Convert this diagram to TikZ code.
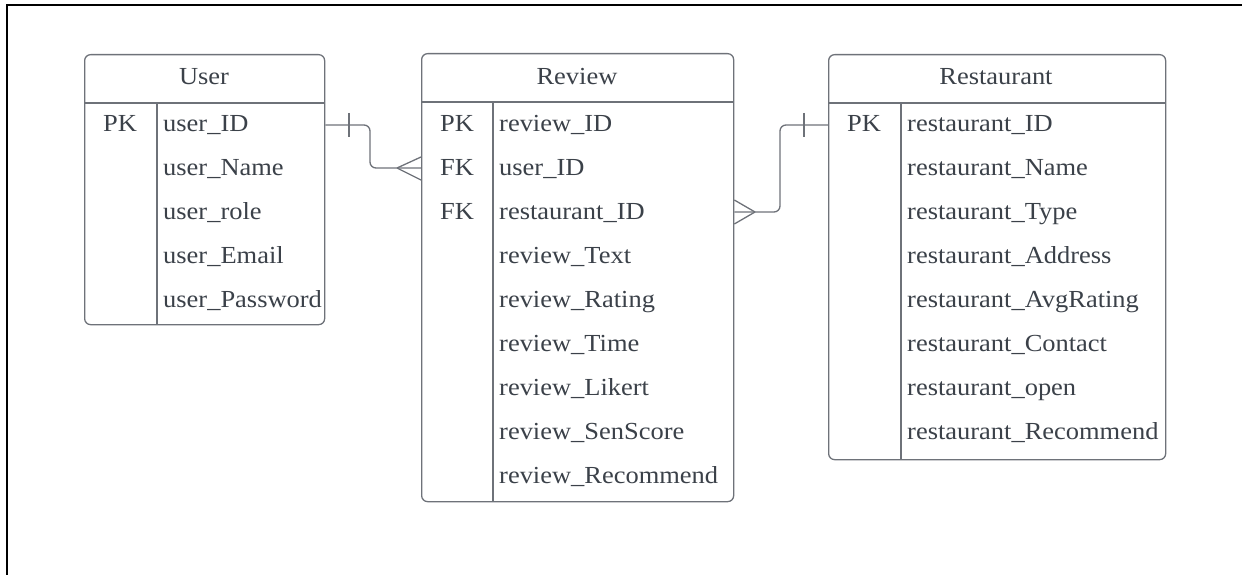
\documentclass[tikz,border=0pt]{standalone}
\usepackage{fontspec}
\setmainfont{Liberation Serif}[FakeStretch=1.08]
\definecolor{ln}{HTML}{6E7279}
\definecolor{tx}{HTML}{3B4149}
\begin{document}
\begin{tikzpicture}[x=1pt,y=-1pt,
  tbl/.style={draw=ln, line width=1.3pt, rounded corners=6pt, inner sep=0pt, anchor=north west},
  divline/.style={draw=ln, line width=1.3pt},
  fld/.style={text=tx, font=\fontsize{24.5}{28}\selectfont, anchor=base west, inner sep=0pt},
  key/.style={fld, anchor=base},
  conn/.style={draw=ln, line width=1.3pt, rounded corners=6pt},
  tickline/.style={draw=ln, line width=1.3pt}]
\useasboundingbox (0,0) rectangle (1242,575);
% frame
\draw[black, line width=2.6pt] (7,575) -- (7,5) -- (1242,5);

% User table
\node[tbl, minimum width=240pt, minimum height=270pt] (user) at (84,54) {};
\draw[divline] (user.west |- 0,103) -- (user.east |- 0,103);
\draw[divline] (157,103) -- ({157,0} |- user.south);
\node[key] (userH) at (204,85) {User};
\node[key] (upk) at (120,131.5) {PK};
\foreach \t [count=\i] in {user\_ID,user\_Name,user\_role,user\_Email,user\_Password}
  \node[fld] (u\i) at (163,{123+44*(\i-1)+8.5}) {\t};

% Review table
\node[tbl, minimum width=312pt, minimum height=448pt] (review) at (421,53) {};
\draw[divline] (review.west |- 0,102) -- (review.east |- 0,102);
\draw[divline] (493,102) -- ({493,0} |- review.south);
\node[key] (reviewH) at (577,85) {Review};
\node[key] (rpk) at (457,131.5) {PK};
\node[key] (rfk1) at (457,175.5) {FK};
\node[key] (rfk2) at (457,219.5) {FK};
\foreach \t [count=\i] in {review\_ID,user\_ID,restaurant\_ID,review\_Text,review\_Rating,review\_Time,review\_Likert,review\_SenScore,review\_Recommend}
  \node[fld] (r\i) at (499,{123+44*(\i-1)+8.5}) {\t};

% Restaurant table
\node[tbl, minimum width=337pt, minimum height=405pt] (rest) at (828,54) {};
\draw[divline] (rest.west |- 0,103) -- (rest.east |- 0,103);
\draw[divline] (901,103) -- ({901,0} |- rest.south);
\node[key] (restH) at (996,85) {Restaurant};
\node[key] (spk) at (864,131.5) {PK};
\foreach \t [count=\i] in {restaurant\_ID,restaurant\_Name,restaurant\_Type,restaurant\_Address,restaurant\_AvgRating,restaurant\_Contact,restaurant\_open,restaurant\_Recommend}
  \node[fld] (s\i) at (907,{123+44*(\i-1)+8.5}) {\t};

% User -> Review (one to many)
\draw[conn] (user.east |- 0,125) -- (370,125) -- (370,168) -- (review.west |- 0,168);
\draw[tickline] (349,113) -- (349,137);
\draw[tickline] (397,168) -- (review.west |- 0,157);
\draw[tickline] (397,168) -- (review.west |- 0,180);

% Review -> Restaurant (many to one)
\draw[conn] (review.east |- 0,212) -- (780,212) -- (780,125) -- (rest.west |- 0,125);
\draw[tickline] (804,113) -- (804,137);
\draw[tickline] (755,212) -- (review.east |- 0,200);
\draw[tickline] (755,212) -- (review.east |- 0,224);
\end{tikzpicture}
\end{document}
